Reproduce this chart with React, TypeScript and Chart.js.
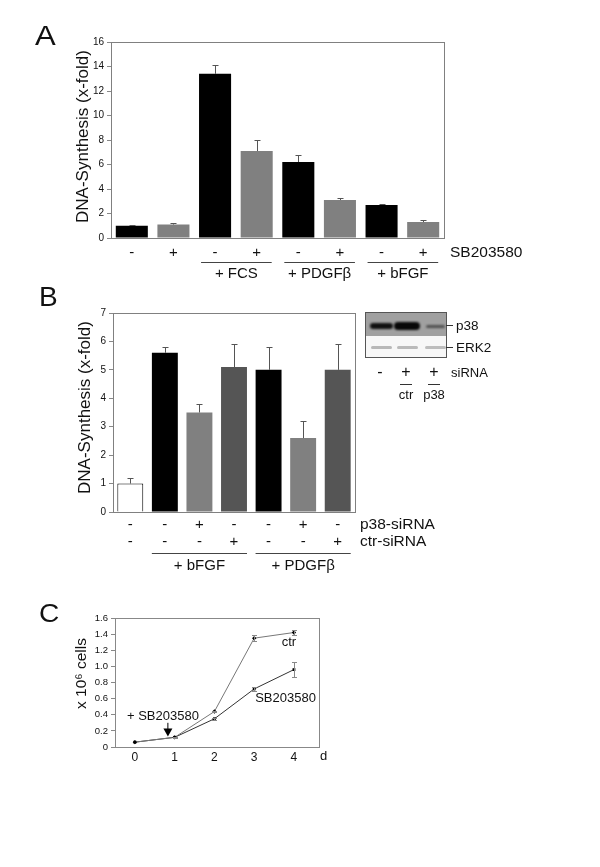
import React, { useEffect, useRef } from 'react';
import { Chart, registerables } from 'chart.js';

Chart.register(...registerables);

const FONT = '"Liberation Sans", Arial, Helvetica, sans-serif';
const TXT = '#111';

// ---------- Panel A data ----------
const aCategories = ['ctl-', 'ctl+', 'FCS-', 'FCS+', 'PDGF-', 'PDGF+', 'bFGF-', 'bFGF+'];
const aSbMarks = ['-', '+', '-', '+', '-', '+', '-', '+'];
const aValues = [1.0, 1.1, 13.4, 7.1, 6.2, 3.1, 2.7, 1.3];
const aErrors = [0.1, 0.1, 0.7, 0.9, 0.6, 0.2, 0.1, 0.2];
const aColors = ['#000000', '#808080', '#000000', '#808080', '#000000', '#808080', '#000000', '#808080'];
const aGroupLabels = ['+ FCS', '+ PDGFβ', '+ bFGF'];
const aGroupStart = [2, 4, 6];
const aGroupEnd = [3, 5, 7];
const aYMax = 16;
const aYStep = 2;

// ---------- Panel B data ----------
const bCategories = ['ctl', 'bFGF', 'bFGF p38', 'bFGF ctr', 'PDGF', 'PDGF p38', 'PDGF ctr'];
const bP38Marks = ['-', '-', '+', '-', '-', '+', '-'];
const bCtrMarks = ['-', '-', '-', '+', '-', '-', '+'];
const bValues = [1.0, 5.6, 3.5, 5.1, 5.0, 2.6, 5.0];
const bErrors = [0.2, 0.2, 0.3, 0.8, 0.8, 0.6, 0.9];
const bColors = ['#ffffff', '#000000', '#808080', '#555555', '#000000', '#808080', '#555555'];
const bBorderWidths = [1, 0, 0, 0, 0, 0, 0];
const bGroupLabels = ['+ bFGF', '+ PDGFβ'];
const bGroupStart = [1, 4];
const bGroupEnd = [3, 6];
const bYMax = 7;
const bYStep = 1;

// ---------- Panel C data ----------
const cDays = [0, 1, 2, 3, 4];
const cCtr = [0.06, 0.12, 0.44, 1.35, 1.42];
const cCtrErr = [0, 0.01, 0.01, 0.04, 0.03];
const cSb = [0.06, 0.12, 0.35, 0.72, 0.96];
const cSbErr = [0, 0, 0.01, 0.02, 0.09];
const cYMax = 1.6;
const cYStep = 0.2;

function boxPlugin(color: string) {
  return {
    id: 'box',
    afterDatasetsDraw(chart: any) {
      const { ctx, chartArea: a } = chart;
      ctx.save();
      ctx.strokeStyle = color;
      ctx.lineWidth = 1;
      ctx.strokeRect(Math.round(a.left) + 0.5, Math.round(a.top) + 0.5, Math.round(a.right - a.left), Math.round(a.bottom - a.top));
      ctx.restore();
    },
  };
}

function yTitlePlugin(title: string, x: number, yCenterOffset: number, size: number) {
  return {
    id: 'yTitle',
    afterDraw(chart: any) {
      const { ctx, chartArea: a } = chart;
      ctx.save();
      ctx.translate(x, (a.top + a.bottom) / 2 + yCenterOffset);
      ctx.rotate(-Math.PI / 2);
      ctx.font = `${size}px ${FONT}`;
      ctx.fillStyle = TXT;
      ctx.textAlign = 'center';
      ctx.textBaseline = 'middle';
      ctx.fillText(title, 0, 0);
      ctx.restore();
    },
  };
}

function barErrorPlugin(values: number[], errors: number[], color: string) {
  return {
    id: 'barErr',
    afterDatasetsDraw(chart: any) {
      const { ctx } = chart;
      const ys = chart.scales.y;
      const meta = chart.getDatasetMeta(0);
      ctx.save();
      ctx.strokeStyle = color;
      ctx.lineWidth = 1;
      meta.data.forEach((el: any, i: number) => {
        const e = errors[i];
        if (!e) return;
        const x = Math.round(el.x) + 0.5;
        const yb = ys.getPixelForValue(values[i]);
        const yt = Math.round(ys.getPixelForValue(values[i] + e)) + 0.5;
        ctx.beginPath();
        ctx.moveTo(x, yb);
        ctx.lineTo(x, yt);
        ctx.moveTo(x - 3, yt);
        ctx.lineTo(x + 3, yt);
        ctx.stroke();
      });
      ctx.restore();
    },
  };
}

function text(ctx: any, s: string, x: number, y: number, size: number, align: string = 'center') {
  ctx.font = `${size}px ${FONT}`;
  ctx.fillStyle = TXT;
  ctx.textAlign = align;
  ctx.textBaseline = 'middle';
  ctx.fillText(s, x, y);
}

function hline(ctx: any, x1: number, x2: number, y: number) {
  ctx.save();
  ctx.strokeStyle = '#444';
  ctx.lineWidth = 1;
  ctx.beginPath();
  ctx.moveTo(x1, Math.round(y) + 0.5);
  ctx.lineTo(x2, Math.round(y) + 0.5);
  ctx.stroke();
  ctx.restore();
}

const aLabelsPlugin = {
  id: 'aLabels',
  afterDraw(chart: any) {
    const { ctx, chartArea: a } = chart;
    const xs = chart.scales.x;
    ctx.save();
    aSbMarks.forEach((m, i) => text(ctx, m, xs.getPixelForValue(i), a.bottom + 15, 15));
    text(ctx, 'SB203580', a.right + 6, a.bottom + 15, 15.5, 'left');
    aGroupLabels.forEach((g, k) => {
      const x1 = xs.getPixelForValue(aGroupStart[k]) - 14;
      const x2 = xs.getPixelForValue(aGroupEnd[k]) + 15;
      hline(ctx, x1, x2, a.bottom + 24);
      text(ctx, g, (x1 + x2) / 2, a.bottom + 36, 15);
    });
    ctx.restore();
  },
};

const bLabelsPlugin = {
  id: 'bLabels',
  afterDraw(chart: any) {
    const { ctx, chartArea: a } = chart;
    const xs = chart.scales.x;
    ctx.save();
    bP38Marks.forEach((m, i) => text(ctx, m, xs.getPixelForValue(i), a.bottom + 13, 15));
    bCtrMarks.forEach((m, i) => text(ctx, m, xs.getPixelForValue(i), a.bottom + 30, 15));
    text(ctx, 'p38-siRNA', a.right + 5, a.bottom + 13, 15.5, 'left');
    text(ctx, 'ctr-siRNA', a.right + 5, a.bottom + 30, 15.5, 'left');
    bGroupLabels.forEach((g, k) => {
      const x1 = xs.getPixelForValue(bGroupStart[k]) - 13;
      const x2 = xs.getPixelForValue(bGroupEnd[k]) + 13;
      hline(ctx, x1, x2, a.bottom + 41);
      text(ctx, g, (x1 + x2) / 2, a.bottom + 54, 15);
    });
    ctx.restore();
  },
};

const cLabelsPlugin = {
  id: 'cLabels',
  afterDatasetsDraw(chart: any) {
    const { ctx, chartArea: a } = chart;
    const xs = chart.scales.x;
    const ys = chart.scales.y;
    ctx.save();
    // error bars
    ctx.strokeStyle = '#888';
    ctx.lineWidth = 1;
    const drawErr = (vals: number[], errs: number[]) => {
      vals.forEach((v, i) => {
        const e = errs[i];
        if (!e) return;
        const x = Math.round(xs.getPixelForValue(cDays[i])) + 0.5;
        const y1 = Math.round(ys.getPixelForValue(v + e)) + 0.5;
        const y2 = Math.round(ys.getPixelForValue(v - e)) + 0.5;
        ctx.beginPath();
        ctx.moveTo(x, y1);
        ctx.lineTo(x, y2);
        ctx.moveTo(x - 2.5, y1);
        ctx.lineTo(x + 2.5, y1);
        ctx.moveTo(x - 2.5, y2);
        ctx.lineTo(x + 2.5, y2);
        ctx.stroke();
      });
    };
    drawErr(cCtr, cCtrErr);
    drawErr(cSb, cSbErr);
    // annotations
    text(ctx, 'ctr', xs.getPixelForValue(4) - 5, ys.getPixelForValue(cCtr[4]) + 10, 13);
    text(ctx, 'SB203580', xs.getPixelForValue(3) + 1, ys.getPixelForValue(cSb[3]) + 9, 13, 'left');
    text(ctx, '+ SB203580', a.left + 12, ys.getPixelForValue(0.38), 13, 'left');
    // arrow
    const ax = xs.getPixelForValue(0.83);
    const yTop = ys.getPixelForValue(0.3);
    const yTip = ys.getPixelForValue(0.13);
    ctx.strokeStyle = '#000';
    ctx.beginPath();
    ctx.moveTo(ax, yTop);
    ctx.lineTo(ax, yTip - 6);
    ctx.stroke();
    ctx.fillStyle = '#000';
    ctx.beginPath();
    ctx.moveTo(ax - 4.5, yTip - 8);
    ctx.lineTo(ax + 4.5, yTip - 8);
    ctx.lineTo(ax, yTip);
    ctx.closePath();
    ctx.fill();
    text(ctx, 'd', a.right + 1, a.bottom + 9, 13, 'left');
    ctx.restore();
  },
};

function yAxis(max: number, step: number, width: number, tickSize: number, fmt?: (v: number) => string) {
  return {
    min: 0,
    max,
    ticks: {
      stepSize: step,
      font: { size: tickSize, family: FONT },
      color: TXT,
      padding: 3,
      callback: fmt ? (v: any) => fmt(Number(v)) : undefined,
    },
    grid: { display: true, drawOnChartArea: false, drawTicks: true, tickLength: 4, color: '#888' },
    border: { display: false },
    title: { display: false },
    afterFit: (s: any) => {
      s.width = width;
    },
  };
}

function useChart(ref: React.RefObject<HTMLCanvasElement>, build: () => any) {
  useEffect(() => {
    if (!ref.current) return;
    const chart = new Chart(ref.current, build());
    return () => chart.destroy();
  }, []);
}

function PanelA() {
  const ref = useRef<HTMLCanvasElement>(null);
  useChart(ref, () => ({
    type: 'bar',
    data: {
      labels: aCategories,
      datasets: [{ data: aValues, backgroundColor: aColors, borderWidth: 0, barPercentage: 0.77, categoryPercentage: 1 }],
    },
    options: {
      responsive: false,
      animation: false,
      devicePixelRatio: 1,
      layout: { padding: { left: 73, top: 42, right: 156, bottom: 62 } },
      plugins: { legend: { display: false }, tooltip: { enabled: false } },
      scales: {
        x: { display: false },
        y: yAxis(aYMax, aYStep, 38, 10),
      },
    },
    plugins: [
      boxPlugin('#808080'),
      barErrorPlugin(aValues, aErrors, '#555'),
      aLabelsPlugin,
      yTitlePlugin('DNA-Synthesis (x-fold)', 83, -3.5, 17),
    ],
  }));
  return <canvas ref={ref} width={600} height={300} style={{ position: 'absolute', left: 0, top: 0 }} />;
}

function PanelB() {
  const ref = useRef<HTMLCanvasElement>(null);
  useChart(ref, () => ({
    type: 'bar',
    data: {
      labels: bCategories,
      datasets: [
        {
          data: bValues,
          backgroundColor: bColors,
          borderColor: '#000',
          borderWidth: bBorderWidths,
          borderSkipped: 'bottom',
          barPercentage: 0.75,
          categoryPercentage: 1,
        },
      ],
    },
    options: {
      responsive: false,
      animation: false,
      devicePixelRatio: 1,
      layout: { padding: { left: 75, top: 33, right: 245, bottom: 68 } },
      plugins: { legend: { display: false }, tooltip: { enabled: false } },
      scales: {
        x: { display: false },
        y: yAxis(bYMax, bYStep, 38, 10),
      },
    },
    plugins: [
      boxPlugin('#808080'),
      barErrorPlugin(bValues, bErrors, '#555'),
      bLabelsPlugin,
      yTitlePlugin('DNA-Synthesis (x-fold)', 85, -5, 17),
    ],
  }));
  return <canvas ref={ref} width={600} height={300} style={{ position: 'absolute', left: 0, top: 280 }} />;
}

function PanelC() {
  const ref = useRef<HTMLCanvasElement>(null);
  useChart(ref, () => ({
    type: 'line',
    data: {
      datasets: [
        {
          label: 'ctr',
          data: cDays.map((d, i) => ({ x: d, y: cCtr[i] })),
          borderColor: '#777',
          borderWidth: 1,
          pointStyle: 'rectRot',
          pointRadius: 2.2,
          pointBackgroundColor: '#000',
          pointBorderColor: '#000',
          pointBorderWidth: 0,
        },
        {
          label: 'SB203580',
          data: cDays.map((d, i) => ({ x: d, y: cSb[i] })),
          borderColor: '#333',
          borderWidth: 1,
          pointStyle: 'rect',
          pointRadius: 2,
          pointBackgroundColor: '#000',
          pointBorderColor: '#000',
          pointBorderWidth: 0,
        },
      ],
    },
    options: {
      responsive: false,
      animation: false,
      devicePixelRatio: 1,
      layout: { padding: { left: 72, top: 28, right: 281, bottom: 23 } },
      plugins: { legend: { display: false }, tooltip: { enabled: false } },
      scales: {
        x: {
          type: 'linear',
          min: -0.5,
          max: 4.63,
          grid: { display: false, drawTicks: false },
          border: { display: false },
          ticks: { font: { size: 12, family: FONT }, color: TXT, padding: 3 },
          afterBuildTicks: (s: any) => {
            s.ticks = cDays.map((v) => ({ value: v }));
          },
          afterFit: (s: any) => {
            s.height = 20;
          },
        },
        y: yAxis(cYMax, cYStep, 43, 9.5, (v) => (v === 0 ? '0' : v.toFixed(1))),
      },
    },
    plugins: [boxPlugin('#888'), cLabelsPlugin, yTitlePlugin('x 10⁶ cells', 82, -9, 15.5)],
  }));
  return <canvas ref={ref} width={600} height={200} style={{ position: 'absolute', left: 0, top: 590 }} />;
}

function T(props: { x: number; y: number; s: string; size: number; align?: 'left' | 'center' }) {
  const { x, y, s, size, align = 'center' } = props;
  return (
    <div
      style={{
        position: 'absolute',
        left: x,
        top: y,
        transform: align === 'center' ? 'translate(-50%,-50%)' : 'translate(0,-50%)',
        fontSize: size,
        lineHeight: 1,
        whiteSpace: 'nowrap',
        color: TXT,
        fontFamily: FONT,
      }}
    >
      {s}
    </div>
  );
}

function Band(props: { x: number; y: number; w: number; h: number; c: string; blur: number }) {
  const { x, y, w, h, c, blur } = props;
  return (
    <div
      style={{
        position: 'absolute',
        left: x - w / 2,
        top: y - h / 2,
        width: w,
        height: h,
        background: c,
        borderRadius: h / 2,
        filter: `blur(${blur}px)`,
      }}
    />
  );
}

function Blot() {
  return (
    <>
      <div
        style={{
          position: 'absolute',
          left: 365,
          top: 312,
          width: 82,
          height: 46,
          border: '1px solid #555',
          boxSizing: 'border-box',
          background: '#f7f7f7',
          overflow: 'hidden',
        }}
      >
        <div style={{ position: 'absolute', left: 0, top: 0, width: '100%', height: 23, background: '#a0a0a0' }} />
        <Band x={15} y={13} w={23} h={6} c="#111" blur={0.9} />
        <Band x={41} y={13} w={26} h={8} c="#080808" blur={0.9} />
        <Band x={69} y={13.5} w={19} h={3.5} c="#505050" blur={0.8} />
        <Band x={15} y={34} w={21} h={3} c="#b8b8b8" blur={0.7} />
        <Band x={41} y={34} w={21} h={3} c="#bababa" blur={0.7} />
        <Band x={69} y={34} w={21} h={3} c="#bdbdbd" blur={0.7} />
      </div>
      <div style={{ position: 'absolute', left: 446, top: 325, width: 7, height: 1, background: '#333' }} />
      <div style={{ position: 'absolute', left: 446, top: 347, width: 7, height: 1, background: '#333' }} />
      <T x={456} y={326} s="p38" size={13.5} align="left" />
      <T x={456} y={348} s="ERK2" size={13.5} align="left" />
      <T x={380} y={372} s="-" size={16} />
      <T x={406} y={372} s="+" size={16} />
      <T x={434} y={372} s="+" size={16} />
      <T x={451} y={372} s="siRNA" size={13} align="left" />
      <div style={{ position: 'absolute', left: 400, top: 384, width: 12, height: 1, background: '#333' }} />
      <div style={{ position: 'absolute', left: 428, top: 384, width: 12, height: 1, background: '#333' }} />
      <T x={406} y={394} s="ctr" size={13} />
      <T x={434} y={394} s="p38" size={13} />
    </>
  );
}

function Letter(props: { x: number; y: number; s: string; size: number; sx: number }) {
  return (
    <div
      style={{
        position: 'absolute',
        left: props.x,
        top: props.y,
        fontSize: props.size,
        lineHeight: `${props.size}px`,
        fontFamily: FONT,
        color: TXT,
        transform: `scaleX(${props.sx})`,
        transformOrigin: 'left top',
      }}
    >
      {props.s}
    </div>
  );
}

export default function App() {
  return (
    <div
      style={{
        position: 'fixed',
        left: 0,
        top: 0,
        width: 600,
        height: 867,
        background: '#fff',
        overflow: 'hidden',
        fontFamily: FONT,
      }}
    >
      <PanelA />
      <PanelB />
      <PanelC />
      <Blot />
      <Letter x={35} y={23} s="A" size={27} sx={1.15} />
      <Letter x={39} y={283} s="B" size={28} sx={1} />
      <Letter x={39} y={600} s="C" size={26} sx={1.08} />
    </div>
  );
}
